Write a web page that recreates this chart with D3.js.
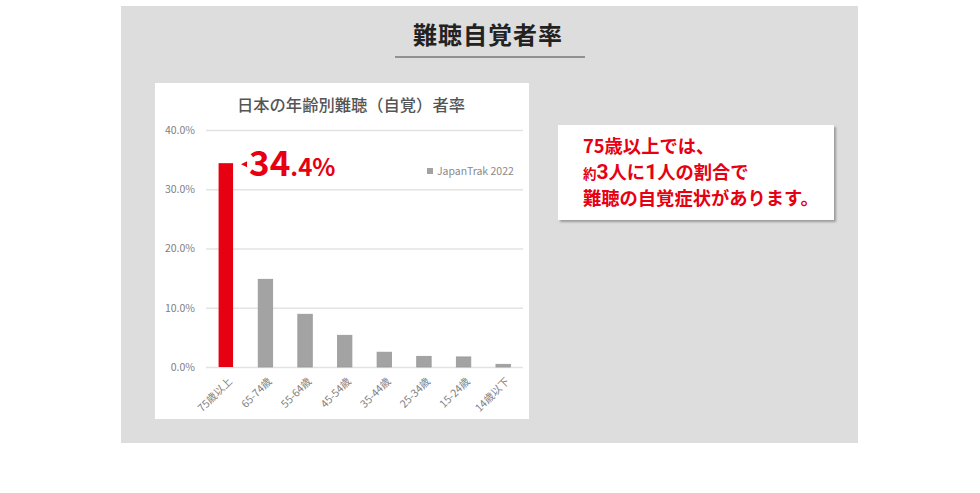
<!DOCTYPE html>
<html><head><meta charset="utf-8">
<script src="https://cdn.jsdelivr.net/npm/d3@7"></script>
<style>
html,body{margin:0;padding:0;background:#fff;}
svg{display:block;}
text{font-family:"Noto Sans CJK JP","Noto Sans",sans-serif;}
</style></head>
<body>
<svg id="c" width="980" height="493"></svg>
<script>
const pageTitle = "難聴自覚者率";
const chartTitle = "日本の年齢別難聴（自覚）者率";
const categories = ["75歳以上","65-74歳","55-64歳","45-54歳","35-44歳","25-34歳","15-24歳","14歳以下"];
const values = [34.4, 14.8, 8.9, 5.35, 2.5, 1.8, 1.7, 0.45];
const highlightLabel = "34.4";
const yTicks = [0, 10, 20, 30, 40];
const legendLabel = "JapanTrak 2022";
const calloutLines = [
  [{t:"75歳以上では、",s:18.3}],
  [{t:"約",s:13.5},{t:"3",s:21,num:true},{t:"人に",s:18.3},{t:"1",s:21,num:true},{t:"人の割合で",s:18.3}],
  [{t:"難聴の自覚症状があります。",s:18.3}]
];

const RED = "#e60012";
const svg = d3.select("#c");

const defs = svg.append("defs");
const f = defs.append("filter").attr("id","sh").attr("x","-5%").attr("y","-5%").attr("width","115%").attr("height","120%");
f.append("feDropShadow").attr("dx",2).attr("dy",2).attr("stdDeviation",1).attr("flood-color","#000").attr("flood-opacity",0.3);

// gray panel
svg.append("rect").attr("x",121).attr("y",6).attr("width",737).attr("height",437).attr("fill","#dcdddc");

// page title
svg.append("text").attr("x",488).attr("y",44).attr("text-anchor","middle")
  .attr("font-size",24).attr("font-weight",700).attr("fill","#222").attr("letter-spacing",1).text(pageTitle);
svg.append("line").attr("x1",395).attr("x2",585).attr("y1",57).attr("y2",57).attr("stroke","#777").attr("stroke-width",1.5);

// chart box
svg.append("rect").attr("x",155).attr("y",83).attr("width",374).attr("height",336).attr("fill","#fff");

svg.append("text").attr("x",351).attr("y",111).attr("text-anchor","middle")
  .attr("font-size",16.3).attr("font-weight",500).attr("fill","#555").text(chartTitle);

const x = d3.scaleBand().domain(categories).range([206,523]).paddingInner(0.635).paddingOuter(0.3175);
const y = d3.scaleLinear().domain([0,40]).range([367,130]);

const ya = svg.append("g").attr("transform","translate(206,0)")
  .call(d3.axisLeft(y).tickValues(yTicks).tickFormat(d=>d.toFixed(1)+"%").tickSizeInner(-317).tickSizeOuter(0).tickPadding(11));
ya.select(".domain").remove();
ya.selectAll("line").attr("stroke","#e3e3e3").attr("stroke-width",1.5);
ya.selectAll("text").attr("font-size",10.5).attr("fill","#808080").attr("font-family","Roboto,'Noto Sans',sans-serif");

// bars
svg.append("g").selectAll("rect").data(values).join("rect")
  .attr("x",(d,i)=>x(categories[i]))
  .attr("y",d=>y(d))
  .attr("width",x.bandwidth())
  .attr("height",d=>y(0)-y(d))
  .attr("fill",(d,i)=>i===0?RED:"#a3a3a3")
  .attr("stroke",(d,i)=>i===0?"none":"#999")
  .attr("stroke-width",0.8);

// x labels
const xa = svg.append("g").attr("transform","translate(0,367)")
  .call(d3.axisBottom(x).tickSize(0).tickPadding(0));
xa.select(".domain").remove();
xa.selectAll("text").attr("font-size",10.5).attr("fill","#808080")
  .attr("text-anchor","end").attr("dy",0)
  .attr("transform","translate(7,15) rotate(-45)");

// highlight label
const hx = x(categories[0]) + x.bandwidth();
const hy = y(values[0]);
svg.append("path").attr("d",`M${hx+8},${hy+1} l6,-3 l0,6 z`).attr("fill",RED);
const parts = highlightLabel.split(".");
const ht = svg.append("text").attr("x",hx+16).attr("y",hy+13).attr("fill",RED)
  .attr("font-family","Roboto,'Noto Sans',sans-serif").attr("font-weight",700);
ht.append("tspan").attr("font-size",35).text(parts[0]);
ht.append("tspan").attr("font-size",24).text("."+parts[1]+"%");

// legend
svg.append("rect").attr("x",427).attr("y",168).attr("width",6).attr("height",6).attr("fill","#a3a3a3");
svg.append("text").attr("x",437).attr("y",175).attr("font-size",10.5).attr("fill","#8a8a8a")
  .attr("font-family","Roboto,'Noto Sans',sans-serif").text(legendLabel);

// callout
svg.append("rect").attr("x",558).attr("y",125).attr("width",276).attr("height",95).attr("fill","#fff").attr("filter","url(#sh)");
calloutLines.forEach((line,i)=>{
  const t = svg.append("text").attr("x",583).attr("y",153+i*26).attr("fill",RED).attr("font-weight",700);
  line.forEach(p=>{
    const s = t.append("tspan").attr("font-size",p.s).text(p.t);
    if (p.num) s.attr("font-family","Roboto,'Noto Sans',sans-serif");
  });
});
</script>
</body></html>
